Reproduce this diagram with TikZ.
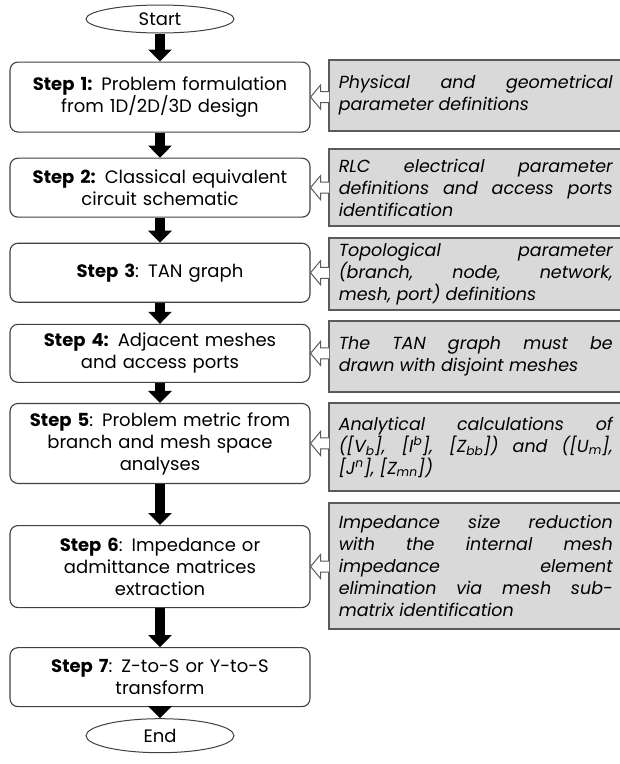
\documentclass[tikz,border=0pt]{standalone}
\usepackage{fontspec}
\setmainfont{Poppins}
\usetikzlibrary{arrows.meta, positioning, shapes.geometric, calc}

\definecolor{notegray}{RGB}{217,217,217}
\definecolor{edgegray}{RGB}{90,90,90}

% open arrow from a note box back to its step box
\newcommand{\hintarrow}[2]{%
  \filldraw[hint] ($(#1.west |- #2.east)+(1,-5.5)$) -- ($(#2.east)+(10,-5.5)$)
    -- ($(#2.east)+(10,-12)$) -- (#2.east) -- ($(#2.east)+(10,12)$)
    -- ($(#2.east)+(10,5.5)$) -- ($(#1.west |- #2.east)+(1,5.5)$);}

\begin{document}
\begin{tikzpicture}[
    x=1pt, y=-1pt,
    stepbox/.style={rectangle, rounded corners=8pt, draw=black!75, line width=1.1pt,
                    fill=white, minimum width=300pt, text width=290pt, align=center,
                    inner sep=0pt, font=\fontsize{18}{22}\selectfont},
    term/.style={ellipse, draw=black!75, line width=1pt, minimum width=148pt,
                 inner sep=0pt, font=\fontsize{18}{22}\selectfont},
    note/.style={rectangle, draw=edgegray, line width=1.5pt, fill=notegray, anchor=west,
                 text width=274pt, inner xsep=10pt, align=justify,
                 font=\fontsize{17.5}{22}\selectfont\itshape},
    flow/.style={line width=10pt, -{Triangle[width=23pt, length=12pt]}},
    hint/.style={draw=edgegray, line width=1pt, fill=white}
]
\useasboundingbox (0,0) rectangle (620,764);

% Main chain
\node[term, minimum height=28pt] (start) at (160,19) {Start};
\node[stepbox, minimum height=70pt, below=28pt of start] (s1)
    {\textbf{Step 1:} Problem formulation\\ from 1D/2D/3D design};
\node[stepbox, minimum height=59pt, below=25pt of s1] (s2)
    {\textbf{Step 2:} Classical equivalent\\ circuit schematic};
\node[stepbox, minimum height=59pt, below=25pt of s2] (s3)
    {\textbf{Step 3}: TAN graph};
\node[stepbox, minimum height=58pt, below=21pt of s3] (s4)
    {\textbf{Step 4:} Adjacent meshes\\ and access ports};
\node[stepbox, minimum height=80pt, below=20pt of s4] (s5)
    {\textbf{Step 5}: Problem metric from\\ branch and mesh space\\ analyses};
\node[stepbox, minimum height=82pt, below=41pt of s5] (s6)
    {\textbf{Step 6}: Impedance or\\ admittance matrices\\ extraction};
\node[stepbox, minimum height=59pt, below=39pt of s6] (s7)
    {\textbf{Step 7}: Z-to-S or Y-to-S\\ transform};
\node[term, minimum height=34pt, below=11pt of s7] (end) {End};

\draw[flow] (start) -- (s1);
\draw[flow] (s1) -- (s2);
\draw[flow] (s2) -- (s3);
\draw[flow] (s3) -- (s4);
\draw[flow] (s4) -- (s5);
\draw[flow] (s5) -- (s6);
\draw[flow] (s6) -- (s7);
\draw[flow] (s7) -- (end);

% Notes
\node[note, minimum height=71pt] (g1) at (328,95.5)
    {Physical and geometrical\linebreak parameter definitions};
\node[note, minimum height=77pt] (g2) at (328,187.5)
    {RLC electrical parameter\linebreak definitions and access ports\linebreak identification};
\node[note, minimum height=72pt] (g3) at (328,274)
    {Topological parameter\linebreak (branch, node, network,\linebreak mesh, port) definitions};
\node[note, minimum height=71pt] (g4) at (328,356.5)
    {The TAN graph must be\linebreak drawn with disjoint meshes};
\node[note, minimum height=88pt] (g5) at (328,447)
    {Analytical calculations of\linebreak{}
     ([V\textsubscript{b}], [I\textsuperscript{b}], [Z\textsubscript{bb}]) and ([U\textsubscript{m}],\linebreak{}
     [J\textsuperscript{n}], [Z\textsubscript{mn}])};
\node[note, minimum height=126pt] (g6) at (328,566)
    {Impedance size reduction\linebreak with the internal mesh\linebreak impedance element\linebreak
     elimination via mesh sub-\linebreak matrix identification};

\hintarrow{g1}{s1}
\hintarrow{g2}{s2}
\hintarrow{g3}{s3}
\hintarrow{g4}{s4}
\hintarrow{g5}{s5}
\hintarrow{g6}{s6}
\end{tikzpicture}
\end{document}
